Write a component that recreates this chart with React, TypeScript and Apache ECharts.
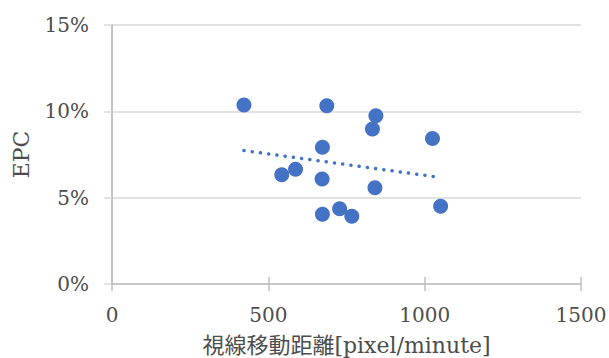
import React, { useEffect, useRef } from "react";
import * as echarts from "echarts";

const distance: number[] = [422, 687, 844, 833, 1025, 673, 543, 587, 672, 841, 1051, 673, 728, 767];
const epc: number[] = [0.1037, 0.1033, 0.0975, 0.0898, 0.0842, 0.0792, 0.0633, 0.0664, 0.0608, 0.0558, 0.045, 0.0404, 0.0436, 0.0392];
const xTitle = "視線移動距離[pixel/minute]";
const yTitle = "EPC";

function linearFit(xs: number[], ys: number[]) {
  const n = xs.length;
  const mx = xs.reduce((a, b) => a + b, 0) / n;
  const my = ys.reduce((a, b) => a + b, 0) / n;
  let sxy = 0, sxx = 0;
  for (let i = 0; i < n; i++) {
    sxy += (xs[i] - mx) * (ys[i] - my);
    sxx += (xs[i] - mx) * (xs[i] - mx);
  }
  const b = sxy / sxx;
  const a = my - b * mx;
  return (x: number) => a + b * x;
}

export default function App() {
  const ref = useRef<HTMLDivElement>(null);
  useEffect(() => {
    if (!ref.current) return;
    const chart = echarts.init(ref.current, undefined, { renderer: "svg" });
    const fit = linearFit(distance, epc);
    const xMin = Math.min(...distance);
    const xMax = Math.max(...distance);
    const numFont = "'DejaVu Serif', serif";
    const cjkFont = "'DejaVu Serif', 'Noto Sans CJK JP', serif";
    chart.setOption({
      animation: false,
      grid: { left: 112, right: 28, top: 25, bottom: 74, show: false, containLabel: false, outerBoundsMode: "none" },
      xAxis: [
        {
          type: "value",
          min: 0,
          max: 1500,
          interval: 500,
          axisLine: { show: true, lineStyle: { color: "#bfbfbf", width: 1.5 } },
          axisTick: { show: true, inside: false, length: 7, lineStyle: { color: "#bfbfbf", width: 1.5 } },
          splitLine: { show: false },
          axisLabel: {
            margin: 21,
            color: "#4d4d4d",
            fontFamily: numFont,
            fontSize: 20,
            formatter: (v: number) => String(v),
          },
          name: xTitle,
          nameLocation: "middle",
          nameGap: 50,
          nameTextStyle: { color: "#4d4d4d", fontFamily: cjkFont, fontSize: 22 },
        },
        {
          type: "value",
          position: "bottom",
          min: 0,
          max: 1500,
          interval: 500,
          axisLine: { show: false },
          axisTick: { show: true, inside: true, length: 7, lineStyle: { color: "#bfbfbf", width: 1.5 } },
          splitLine: { show: false },
          axisLabel: { show: false },
        },
      ],
      yAxis: [
        {
          type: "value",
          min: 0,
          max: 0.15,
          interval: 0.05,
          axisLine: { show: true, lineStyle: { color: "#bfbfbf", width: 1.5 } },
          axisTick: { show: true, inside: false, length: 8, lineStyle: { color: "#d9d9d9", width: 1.5 } },
          splitLine: { show: true, lineStyle: { color: "#d9d9d9", width: 1.5 } },
          axisLabel: {
            margin: 23,
            color: "#4d4d4d",
            fontFamily: numFont,
            fontSize: 20,
            formatter: (v: number) => Math.round(v * 100) + "%",
          },
          name: yTitle,
          nameLocation: "middle",
          nameGap: 80,
          nameTextStyle: { color: "#4d4d4d", fontFamily: numFont, fontSize: 22 },
        },
        {
          type: "value",
          position: "right",
          min: 0,
          max: 0.15,
          interval: 0.05,
          axisLine: { show: true, lineStyle: { color: "#bfbfbf", width: 1.5 } },
          axisTick: { show: false },
          splitLine: { show: false },
          axisLabel: { show: false },
        },
      ],
      series: [
        {
          type: "line",
          data: [
            [xMin, fit(xMin)],
            [xMax, fit(xMax)],
          ],
          symbol: "none",
          lineStyle: { color: "#4472C4", width: 3.5, type: [0.1, 8.2], cap: "round" },
          silent: true,
          z: 1,
        },
        {
          type: "scatter",
          data: distance.map((d, i) => [d, epc[i]]),
          symbol: "circle",
          symbolSize: 15,
          itemStyle: { color: "#4472C4", opacity: 1 },
          z: 2,
        },
      ],
    });
    return () => chart.dispose();
  }, []);
  return <div ref={ref} style={{ width: 609, height: 358, position: "absolute", left: 0, top: 0 }} />;
}
